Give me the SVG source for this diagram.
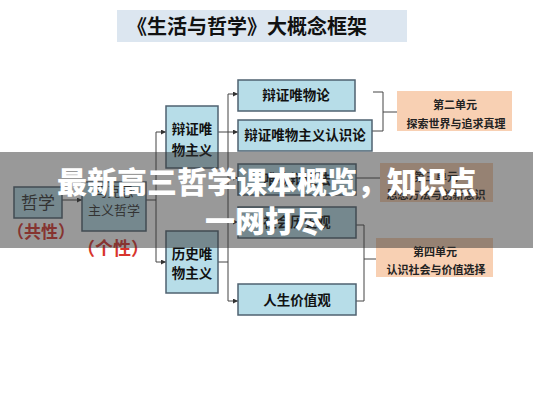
<svg xmlns="http://www.w3.org/2000/svg" width="533" height="400" viewBox="0 0 533 400">
  <defs>
    <marker id="arr" viewBox="0 0 6 6" refX="6" refY="3" markerWidth="5" markerHeight="5" orient="auto" markerUnits="userSpaceOnUse">
      <path d="M0,0 L6,3 L0,6 Z" fill="#333"/>
    </marker>
    <style>
      .t { font-family: "Noto Sans CJK SC", "Noto Sans", sans-serif; }
      .box { fill: #b7dde8; stroke: #4f6270; stroke-width: 1.5; }
      .unit { fill: #f8d0b3; stroke: none; }
      .lbl { font-family: "Noto Sans CJK SC", sans-serif; font-weight: bold; fill: #111; text-anchor: middle; }
      .ul { font-family: "Noto Sans CJK SC", sans-serif; font-weight: bold; fill: #222; text-anchor: middle; font-size: 11px; }
      .ln { fill: none; stroke: #444; stroke-width: 1; }
      .red { font-family: "Noto Sans CJK SC", sans-serif; font-weight: bold; fill: #d8342c; text-anchor: middle; }
      .ov { font-family: "Noto Sans CJK SC", sans-serif; font-weight: 900; fill: #fff; text-anchor: middle; font-size: 30px; }
    </style>
  </defs>
  <rect width="533" height="400" fill="#fff"/>

  <g id="title">
    <rect x="117" y="10" width="290" height="32" fill="#dce6f0"/>
    <text class="t" x="127" y="34" font-size="20" font-weight="bold" fill="#111">《生活与哲学》大概念框架</text>
  </g>

  <g id="connectors">
    <line class="ln" x1="62" y1="200" x2="82" y2="200" marker-end="url(#arr)"/>
    <line class="ln" x1="146" y1="200" x2="156" y2="200"/>
    <line class="ln" x1="156" y1="132" x2="156" y2="262"/>
    <line class="ln" x1="156" y1="132" x2="166" y2="132" marker-end="url(#arr)"/>
    <line class="ln" x1="156" y1="262" x2="166" y2="262" marker-end="url(#arr)"/>
    <line class="ln" x1="218" y1="132" x2="228" y2="132"/>
    <line class="ln" x1="218" y1="262" x2="228" y2="262"/>
    <line class="ln" x1="228" y1="94" x2="228" y2="301"/>
    <line class="ln" x1="228" y1="94" x2="238" y2="94" marker-end="url(#arr)"/>
    <line class="ln" x1="228" y1="132" x2="238" y2="132" marker-end="url(#arr)"/>
    <line class="ln" x1="228" y1="178" x2="238" y2="178" marker-end="url(#arr)"/>
    <line class="ln" x1="228" y1="222" x2="238" y2="222" marker-end="url(#arr)"/>
    <line class="ln" x1="228" y1="301" x2="238" y2="301" marker-end="url(#arr)"/>
    <polyline class="ln" points="373,92 383,92 383,131 372,131"/>
    <line class="ln" x1="383" y1="112" x2="397" y2="112"/>
    <line class="ln" x1="356" y1="178" x2="380" y2="178"/>
    <polyline class="ln" points="356,225 364,225 364,301 356,301"/>
    <line class="ln" x1="364" y1="259" x2="377" y2="259"/>
  </g>

  <g id="n-zhexue">
    <rect class="box" x="14" y="187" width="48" height="31"/>
    <text class="t" x="38" y="209" font-size="17" fill="#333" text-anchor="middle">哲学</text>
    <text class="red" x="41" y="238" font-size="17">（共性）</text>
  </g>
  <g id="n-makesi">
    <rect class="box" x="82" y="182" width="64" height="49"/>
    <text class="t" x="114" y="196" font-size="13" fill="#333" text-anchor="middle">马克思</text>
    <text class="t" x="114" y="215" font-size="13" fill="#333" text-anchor="middle">主义哲学</text>
    <text class="red" x="113" y="255" font-size="18">（个性）</text>
  </g>
  <g id="n-bianzheng">
    <rect class="box" x="166" y="106" width="52" height="62"/>
    <text class="lbl" x="192" y="134" font-size="13.5">辩证唯</text>
    <text class="lbl" x="192" y="155" font-size="13.5">物主义</text>
  </g>
  <g id="n-lishi">
    <rect class="box" x="166" y="231" width="52" height="62"/>
    <text class="lbl" x="192" y="259" font-size="13.5">历史唯</text>
    <text class="lbl" x="192" y="278" font-size="13.5">物主义</text>
  </g>
  <g id="n-weiwulun">
    <rect class="box" x="238" y="80" width="117" height="31"/>
    <text class="lbl" x="296" y="100" font-size="13.5">辩证唯物论</text>
  </g>
  <g id="n-renshilun">
    <rect class="box" x="238" y="120" width="134" height="31"/>
    <text class="lbl" x="305" y="140" font-size="13.5">辩证唯物主义认识论</text>
  </g>
  <g id="n-bianzhengfa">
    <rect class="box" x="238" y="164" width="118" height="31"/>
    <text class="lbl" x="297" y="184" font-size="13.5">唯物辩证法</text>
  </g>
  <g id="n-lishiguan">
    <rect class="box" x="238" y="207" width="118" height="31"/>
    <text class="lbl" x="297" y="227" font-size="13.5">社会历史观</text>
  </g>
  <g id="n-jiazhiguan">
    <rect class="box" x="238" y="284" width="118" height="31"/>
    <text class="lbl" x="297" y="305" font-size="13.5">人生价值观</text>
  </g>
  <g id="n-unit2">
    <rect class="unit" x="397" y="91" width="115" height="40"/>
    <text class="ul" x="455" y="109">第二单元</text>
    <text class="ul" x="456" y="128">探索世界与追求真理</text>
  </g>
  <g id="n-unit3">
    <rect class="unit" x="380" y="163" width="113" height="39"/>
    <text class="ul" x="436" y="181">第三单元</text>
    <text class="ul" x="436" y="199">思想方法与创新意识</text>
  </g>
  <g id="n-unit4">
    <rect class="unit" x="376" y="238" width="117" height="39"/>
    <text class="ul" x="435" y="256">第四单元</text>
    <text class="ul" x="436" y="274">认识社会与价值选择</text>
  </g>

  <g id="overlay">
    <rect x="0" y="152" width="533" height="96" fill="#333" opacity="0.5"/>
    <text class="ov" x="267" y="193">最新高三哲学课本概览，知识点</text>
    <text class="ov" x="265" y="232">一网打尽</text>
  </g>
</svg>
